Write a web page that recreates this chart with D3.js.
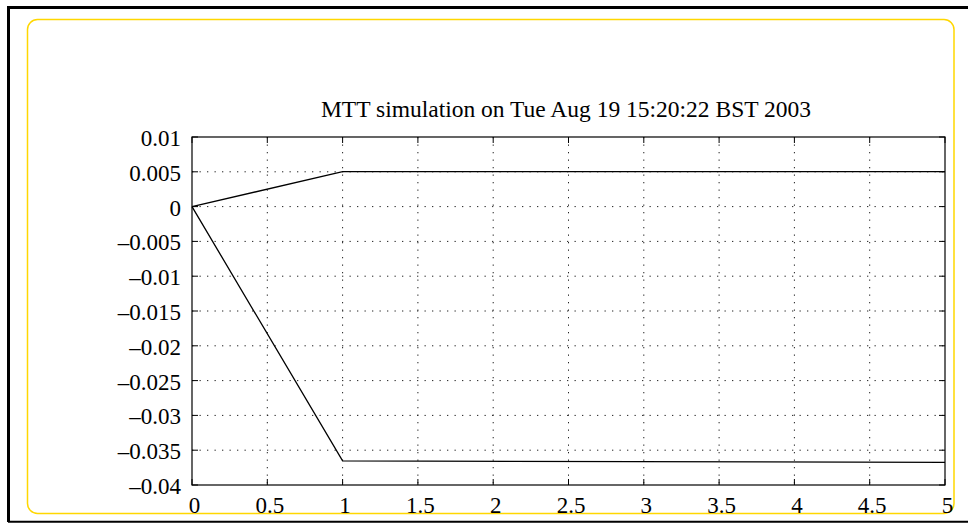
<!DOCTYPE html>
<html>
<head>
<meta charset="utf-8">
<script src="https://cdn.jsdelivr.net/npm/d3@7"></script>
<style>
  html, body { margin: 0; padding: 0; background: #fff; }
  svg { display: block; }
  text { font-family: "Liberation Serif", "Times New Roman", serif; fill: #000; }
</style>
</head>
<body>
<svg id="chart" width="968" height="524"></svg>
<script>
// Simulation output: time (s) and the two state trajectories
const time = [0, 1, 5];
const stateA = [0, 0.00502, 0.00502];
const stateB = [0, -0.03654, -0.03675];

const xTicks = [0, 0.5, 1, 1.5, 2, 2.5, 3, 3.5, 4, 4.5, 5];
const yTicks = [0.01, 0.005, 0, -0.005, -0.01, -0.015, -0.02, -0.025, -0.03, -0.035, -0.04];
const yTickLabels = ["0.01", "0.005", "0", "\u20130.005", "\u20130.01", "\u20130.015", "\u20130.02",
                     "\u20130.025", "\u20130.03", "\u20130.035", "\u20130.04"];
const xTickLabels = ["0", "0.5", "1", "1.5", "2", "2.5", "3", "3.5", "4", "4.5", "5"];
const title = "MTT simulation on Tue Aug 19 15:20:22 BST 2003";

const svg = d3.select("#chart");
const W = 968, H = 524;

// Page frame
svg.append("path")
  .attr("d", `M${W + 2},7.5 H8.5 V522`)
  .attr("fill", "none").attr("stroke", "#000").attr("stroke-width", 3);
svg.append("line")
  .attr("x1", 8).attr("x2", W).attr("y1", 521.8).attr("y2", 521.8)
  .attr("stroke", "#000").attr("stroke-width", 2);

// Rounded highlight box
svg.append("rect")
  .attr("x", 27.5).attr("y", 19.5).attr("width", 926.5).attr("height", 494)
  .attr("rx", 10).attr("ry", 10)
  .attr("fill", "none").attr("stroke", "#ffd700").attr("stroke-width", 1.5);

const plot = { left: 192, right: 945, top: 137, bottom: 485 };

const x = d3.scaleLinear().domain([0, 5]).range([plot.left, plot.right]);
const y = d3.scaleLinear().domain([-0.04, 0.01]).range([plot.bottom, plot.top]);

const g = svg.append("g");

// Dotted grid
g.append("g").selectAll("line").data(xTicks.slice(1, -1)).join("line")
  .attr("x1", d => x(d)).attr("x2", d => x(d))
  .attr("y1", plot.top).attr("y2", plot.bottom)
  .attr("stroke", "#222").attr("stroke-width", 1)
  .attr("stroke-dasharray", "1.3,6.2");
g.append("g").selectAll("line").data(yTicks.slice(1, -1)).join("line")
  .attr("x1", plot.left).attr("x2", plot.right)
  .attr("y1", d => y(d)).attr("y2", d => y(d))
  .attr("stroke", "#222").attr("stroke-width", 1)
  .attr("stroke-dasharray", "1.3,6.2");

// Inward ticks on all four sides
const tl = 6;
const tickG = g.append("g").attr("stroke", "#000").attr("stroke-width", 1);
xTicks.forEach(d => {
  tickG.append("line").attr("x1", x(d)).attr("x2", x(d)).attr("y1", plot.bottom).attr("y2", plot.bottom - tl);
  tickG.append("line").attr("x1", x(d)).attr("x2", x(d)).attr("y1", plot.top).attr("y2", plot.top + tl);
});
yTicks.forEach(d => {
  tickG.append("line").attr("x1", plot.left).attr("x2", plot.left + tl).attr("y1", y(d)).attr("y2", y(d));
  tickG.append("line").attr("x1", plot.right).attr("x2", plot.right - tl).attr("y1", y(d)).attr("y2", y(d));
});

// Axes box
g.append("rect")
  .attr("x", plot.left).attr("y", plot.top)
  .attr("width", plot.right - plot.left).attr("height", plot.bottom - plot.top)
  .attr("fill", "none").attr("stroke", "#000").attr("stroke-width", 1.2);

// Tick labels
g.append("g").selectAll("text").data(yTicks).join("text")
  .attr("x", plot.left - 11).attr("y", d => y(d) + 9)
  .attr("text-anchor", "end").attr("font-size", 23)
  .text((d, i) => yTickLabels[i]);
g.append("g").selectAll("text").data(xTicks).join("text")
  .attr("x", d => x(d) + 2.5).attr("y", 512.5)
  .attr("text-anchor", "middle").attr("font-size", 23)
  .text((d, i) => xTickLabels[i]);

// Title
svg.append("text")
  .attr("x", 566).attr("y", 116.5)
  .attr("text-anchor", "middle").attr("font-size", 23.5)
  .text(title);

// Trajectories
const line = d3.line().x(d => x(d[0])).y(d => y(d[1]));
[stateA, stateB].forEach(series => {
  g.append("path")
    .datum(time.map((t, i) => [t, series[i]]))
    .attr("d", line)
    .attr("fill", "none").attr("stroke", "#000").attr("stroke-width", 1.3);
});
</script>
</body>
</html>
